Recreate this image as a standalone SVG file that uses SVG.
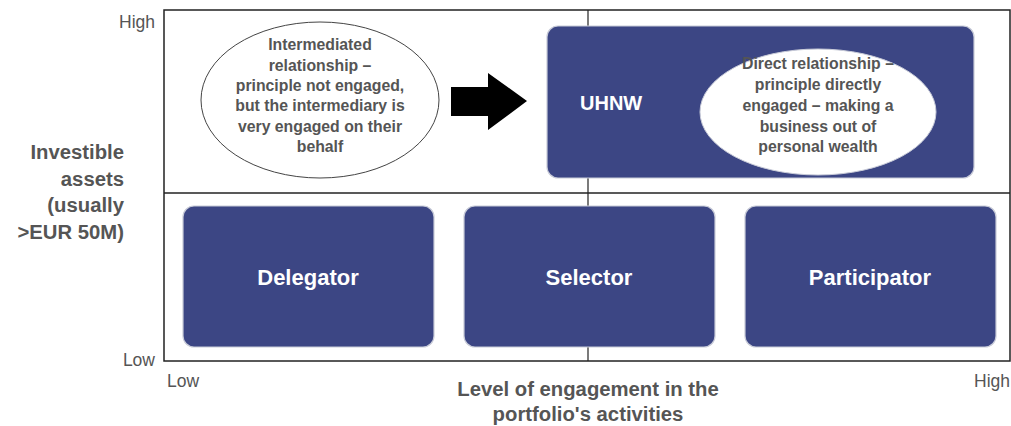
<svg xmlns="http://www.w3.org/2000/svg" width="1011" height="426" viewBox="0 0 1011 426">
<style>
.box{fill:#3c4684;stroke:#c8cbd8;stroke-width:1.2}
.ell{fill:#fff;stroke:#444;stroke-width:1}
.frame{fill:none;stroke:#222;stroke-width:1.5}
.ax{font-family:"Liberation Sans",Arial,sans-serif;font-size:17.5px;fill:#555}
.axt{font-family:"Liberation Sans",Arial,sans-serif;font-size:20.3px;font-weight:bold;fill:#555}
.et{font-family:"Liberation Sans",Arial,sans-serif;font-size:15.8px;font-weight:bold;fill:#555;text-anchor:middle}
.bt{font-family:"Liberation Sans",Arial,sans-serif;font-size:22px;font-weight:bold;fill:#fff;text-anchor:middle}
</style>
<rect width="1011" height="426" fill="#fff"/>
<g id="grid">
<rect class="frame" x="164" y="10" width="846" height="351"/>
<line x1="164" y1="193" x2="1010" y2="193" stroke="#222" stroke-width="1.5"/>
<line x1="588" y1="10" x2="588" y2="361" stroke="#222" stroke-width="1.2"/>
</g>
<g id="axes">
<text class="ax" x="155" y="28" text-anchor="end">High</text>
<text class="ax" x="155" y="366" text-anchor="end">Low</text>
<text class="ax" x="167" y="387">Low</text>
<text class="ax" x="1010" y="387" text-anchor="end">High</text>
<text class="axt" x="124" text-anchor="end"><tspan x="124" y="159">Investible</tspan><tspan x="124" y="186">assets</tspan><tspan x="124" y="212">(usually</tspan><tspan x="124" y="239">&gt;EUR 50M)</tspan></text>
<text class="axt" text-anchor="middle"><tspan x="588" y="396">Level of engagement in the</tspan><tspan x="588" y="421">portfolio's activities</tspan></text>
</g>
<g id="intermediated">
<ellipse class="ell" cx="320" cy="100" rx="119" ry="78"/>
<text class="et"><tspan x="320" y="50">Intermediated</tspan><tspan x="320" y="71">relationship –</tspan><tspan x="320" y="91">principle not engaged,</tspan><tspan x="320" y="111">but the intermediary is</tspan><tspan x="320" y="132">very engaged on their</tspan><tspan x="320" y="152">behalf</tspan></text>
</g>
<g id="connectors">
<polygon points="451,87 488,87 488,73 527,101 488,130 488,116 451,116" fill="#000"/>
</g>
<g id="uhnw">
<rect class="box" x="547" y="26" width="427" height="152" rx="11"/>
<text x="580" y="110" font-family="Liberation Sans, Arial, sans-serif" font-size="20" font-weight="bold" fill="#fff">UHNW</text>
<ellipse cx="818" cy="112" rx="118" ry="63" fill="#fff" stroke="#c8cbd8" stroke-width="1"/>
<text class="et"><tspan x="818" y="69">Direct relationship –</tspan><tspan x="818" y="90">principle directly</tspan><tspan x="818" y="111">engaged – making a</tspan><tspan x="818" y="132">business out of</tspan><tspan x="818" y="152">personal wealth</tspan></text>
</g>
<g id="delegator">
<rect class="box" x="183" y="206" width="251" height="141" rx="11"/>
<text class="bt" x="308" y="285">Delegator</text>
</g>
<g id="selector">
<rect class="box" x="464" y="206" width="251" height="141" rx="11"/>
<text class="bt" x="589" y="285">Selector</text>
</g>
<g id="participator">
<rect class="box" x="745" y="206" width="251" height="141" rx="11"/>
<text class="bt" x="870" y="285">Participator</text>
</g>
</svg>
